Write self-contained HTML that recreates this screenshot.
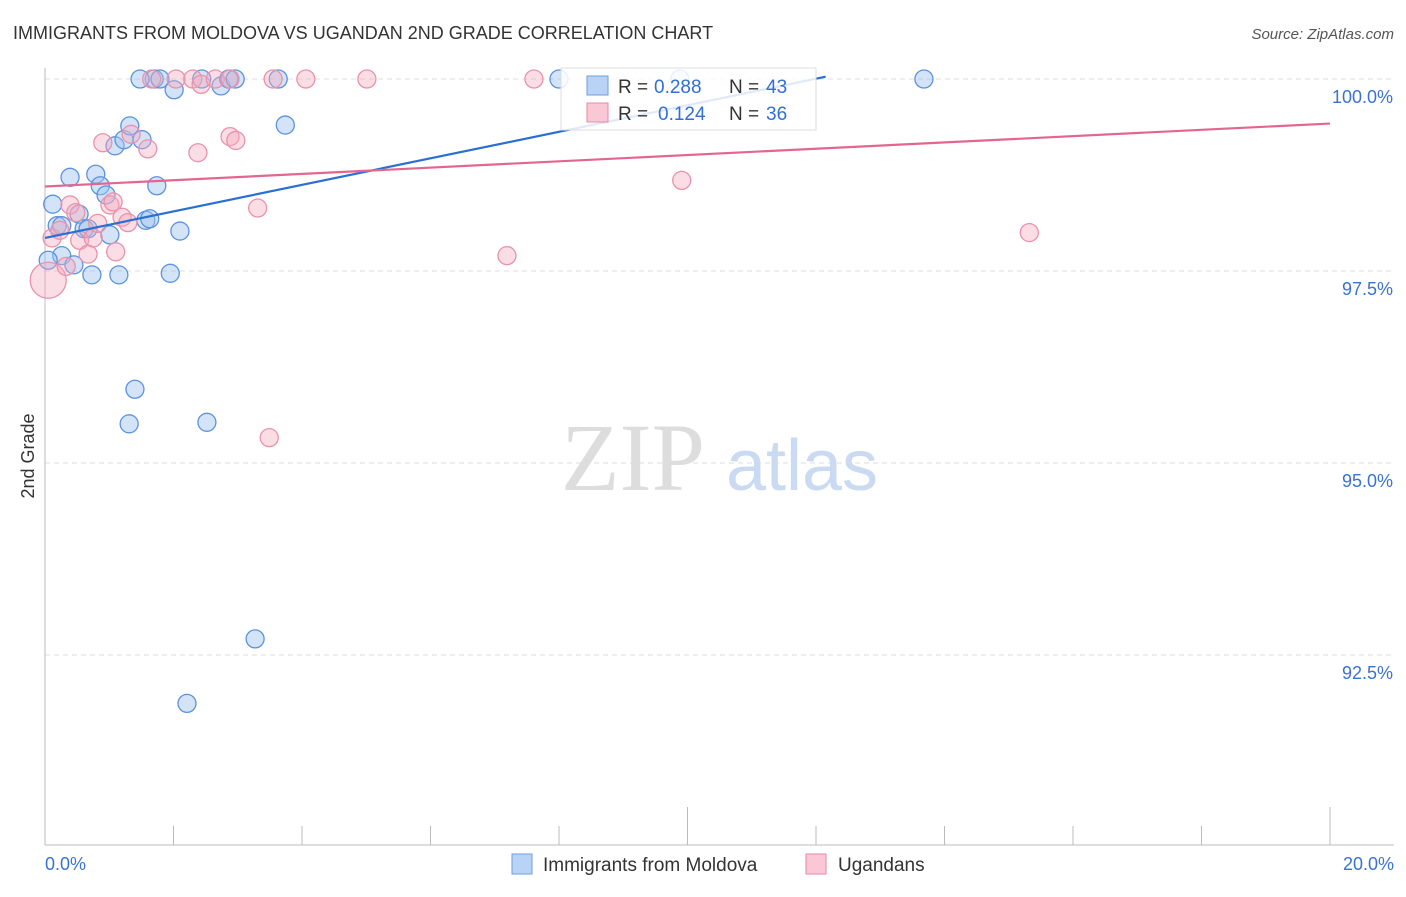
<!DOCTYPE html>
<html><head><meta charset="utf-8"><style>
body{margin:0;background:#fff;font-family:"Liberation Sans",sans-serif;}
</style></head><body>
<svg width="1406" height="892" xmlns="http://www.w3.org/2000/svg" font-family="Liberation Sans, sans-serif">
<text x="13" y="39" font-size="18" fill="#333">IMMIGRANTS FROM MOLDOVA VS UGANDAN 2ND GRADE CORRELATION CHART</text>
<text x="1394" y="39" font-size="15" fill="#555" font-style="italic" text-anchor="end">Source: ZipAtlas.com</text>
<g id="grid"></g>
<text x="633" y="490" font-size="96" fill="#ddd" font-family="Liberation Serif, serif" text-anchor="middle">ZIP</text>
<text x="802" y="490" font-size="72" fill="#c9daf2" text-anchor="middle">atlas</text>
<g id="axes"></g>
<g id="pts"></g>
<g id="lines"></g>
<text x="34" y="456" font-size="18" fill="#333" text-anchor="middle" transform="rotate(-90 34 456)">2nd Grade</text>
<g>
<rect x="561" y="68" width="255" height="62" fill="rgba(255,255,255,0.85)" stroke="#ddd"/>
<rect x="587" y="76" width="21" height="19" fill="#b8d3f5" stroke="#6d9fe0"/>
<text x="618" y="93" font-size="19" fill="#333">R =</text>
<text x="654" y="93" font-size="19" fill="#2f6fd6">0.288</text>
<text x="729" y="93" font-size="19" fill="#333">N =</text>
<text x="766" y="93" font-size="19" fill="#2f6fd6">43</text>
<rect x="587" y="103" width="21" height="19" fill="#f9c7d5" stroke="#e68aa6"/>
<text x="618" y="120" font-size="19" fill="#333">R =</text>
<text x="658" y="120" font-size="19" fill="#2f6fd6">0.124</text>
<text x="729" y="120" font-size="19" fill="#333">N =</text>
<text x="766" y="120" font-size="19" fill="#2f6fd6">36</text>
</g>
<g>
<rect x="512" y="854" width="20" height="20" fill="#b8d3f5" stroke="#6d9fe0"/>
<text x="543" y="871" font-size="19" fill="#333">Immigrants from Moldova</text>
<rect x="806" y="854" width="20" height="20" fill="#f9c7d5" stroke="#e68aa6"/>
<text x="838" y="871" font-size="19" fill="#333">Ugandans</text>
</g>
</svg>
<script>
const blueX=[0.12,0.19,0.26,0.39,0.45,0.53,0.61,0.67,0.73,0.79,0.86,0.95,1.01,1.09,1.15,1.23,1.32,1.40,1.31,1.51,1.57,1.63,1.74,1.70,1.79,2.01,2.10,1.95,2.21,2.44,2.52,2.74,2.86,2.96,3.27,3.63,3.74,8.00,9.88,13.68,0.26,0.05,1.48];
const blueY=[98.37,98.09,97.70,98.72,97.58,98.24,98.05,98.05,97.45,98.76,98.61,98.49,97.97,99.13,97.45,99.21,99.39,95.96,95.51,99.21,98.16,98.18,98.61,100,100,99.86,98.02,97.47,91.87,100,95.53,99.91,100,100,92.71,100,99.40,100,100,100,98.09,97.64,100];
const pinkX=[0.05,0.11,0.23,0.33,0.39,0.48,0.54,0.67,0.75,0.82,0.90,1.01,1.06,1.10,1.20,1.29,1.34,1.60,1.66,2.04,2.30,2.38,2.43,2.65,2.88,2.97,3.31,3.49,3.55,4.06,5.01,7.19,7.61,9.91,15.32,2.88];
const pinkY=[97.38,97.93,98.03,97.56,98.36,98.26,97.90,97.72,97.93,98.12,99.17,98.36,98.40,97.75,98.20,98.13,99.28,99.09,100,100,100,99.04,99.93,100,99.25,99.20,98.32,95.33,100,100,100,97.70,100,98.68,98.00,100];
const trendBlue=[97.93,100.03],trendBlueX=[0,12.15];
const trendPink=[98.60,99.42];
const X=v=>45+v/20*1285, Y=v=>79+(100-v)/2.5*192;
const NS="http://www.w3.org/2000/svg";
function mk(t,a,p){const e=document.createElementNS(NS,t);for(const k in a)e.setAttribute(k,a[k]);p.appendChild(e);return e;}
const grid=document.getElementById('grid'),axes=document.getElementById('axes');
const yTicks=[100,97.5,95,92.5], yLab=["100.0%","97.5%","95.0%","92.5%"];
yTicks.forEach((v,i)=>{
 const l=mk('line',{x1:45,x2:1394,y1:Y(v),y2:Y(v),stroke:'#ddd','stroke-dasharray':'5,4'},grid);
 
 
 const t=mk('text',{x:1393,y:Y(v)+24,'font-size':18,fill:'#3a72d4','text-anchor':'end'},axes);t.textContent=yLab[i];
 
 
});
const ax=mk('line',{x1:45,x2:45,y1:68,y2:845,stroke:'#bbb'},axes);


const bx=mk('line',{x1:45,x2:1394,y1:845,y2:845,stroke:'#bbb'},axes);


for(let i=0;i<=10;i++){const x=X(i*2);const tk=mk('line',{x1:x,x2:x,y1:(i==5||i==10)?807:826,y2:845,stroke:'#bbb'},axes);
 
 }
const xl=[["0.0%",45,'start'],["20.0%",1394,'end']];
xl.forEach(a=>{const t=mk('text',{x:a[1],y:870,'font-size':18,fill:'#3a72d4','text-anchor':a[2]},axes);t.textContent=a[0];
 
 });
const pts=document.getElementById('pts');
blueX.forEach((v,i)=>{const c=mk('circle',{cx:X(v),cy:Y(blueY[i]),r:9,fill:'rgba(160,195,240,0.45)',stroke:'#5b93de','stroke-width':1.3},pts);
 
 });
pinkX.forEach((v,i)=>{const c=mk('circle',{cx:X(v),cy:Y(pinkY[i]),r:i==0?18:9,fill:'rgba(245,170,190,0.4)',stroke:'#ea92ab','stroke-width':1.3},pts);
 
 });
const lines=document.getElementById('lines');
const lb=mk('line',{x1:X(trendBlueX[0]),y1:Y(trendBlue[0]),x2:X(trendBlueX[1]),y2:Y(trendBlue[1]),stroke:'#2a6fd4','stroke-width':2.2},lines);


const lp=mk('line',{x1:X(0),y1:Y(trendPink[0]),x2:X(20),y2:Y(trendPink[1]),stroke:'#e2668e','stroke-width':2.2},lines);


</script>
</body></html>
